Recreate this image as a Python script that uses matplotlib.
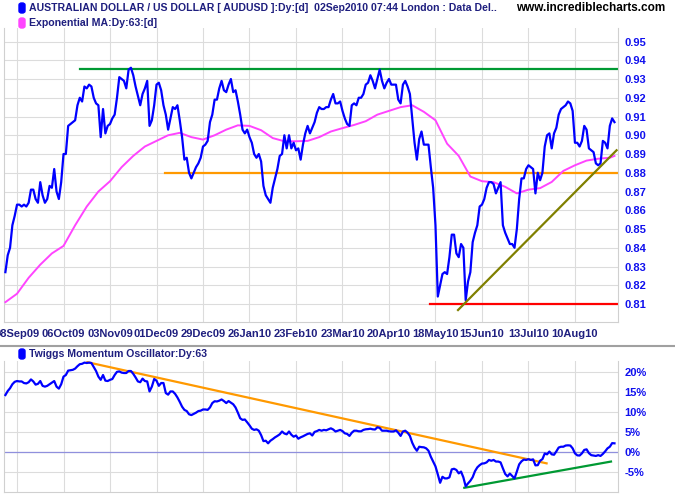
import numpy as np
import matplotlib
matplotlib.use('Agg')
import matplotlib.pyplot as plt
import matplotlib.patches as patches
from matplotlib.lines import Line2D

plt.rcParams['font.family'] = ['Liberation Sans', 'DejaVu Sans']

# AUD/USD daily close, trading day 0 = 01Sep09
price = [
    0.827, 0.836, 0.840, 0.852, 0.857, 0.863, 0.863, 0.862, 0.863, 0.862,
    0.864, 0.871, 0.871, 0.866, 0.864, 0.875, 0.868, 0.864, 0.866, 0.873,
    0.872, 0.882, 0.870, 0.866, 0.875, 0.890, 0.890, 0.905, 0.906, 0.907,
    0.908, 0.916, 0.920, 0.918, 0.926, 0.925, 0.927, 0.926, 0.920, 0.917,
    0.916, 0.899, 0.914, 0.901, 0.905, 0.906, 0.909, 0.911, 0.920, 0.931,
    0.930, 0.929, 0.925, 0.935, 0.936, 0.932, 0.926, 0.921, 0.916, 0.922,
    0.925, 0.929, 0.905, 0.908, 0.916, 0.927, 0.928, 0.924, 0.916, 0.911,
    0.903, 0.909, 0.915, 0.914, 0.916, 0.908, 0.899, 0.887, 0.888, 0.880,
    0.877, 0.880, 0.883, 0.885, 0.888, 0.894, 0.895, 0.897, 0.907, 0.911,
    0.919, 0.919, 0.925, 0.929, 0.924, 0.923, 0.927, 0.930, 0.923, 0.924,
    0.918, 0.911, 0.903, 0.901, 0.903, 0.899, 0.896, 0.890, 0.888, 0.890,
    0.886, 0.873, 0.868, 0.866, 0.864, 0.872, 0.877, 0.882, 0.889, 0.890,
    0.900, 0.893, 0.900, 0.893, 0.896, 0.892, 0.893, 0.887, 0.895, 0.901,
    0.905, 0.901, 0.904, 0.907, 0.912, 0.915, 0.914, 0.914, 0.915, 0.915,
    0.919, 0.922, 0.917, 0.917, 0.918, 0.913, 0.909, 0.906, 0.905, 0.916,
    0.917, 0.916, 0.920, 0.920, 0.922, 0.927, 0.928, 0.932, 0.929, 0.925,
    0.930, 0.935, 0.929, 0.925, 0.928, 0.930, 0.927, 0.927, 0.927, 0.919,
    0.917, 0.927, 0.929, 0.926, 0.922, 0.909, 0.896, 0.887, 0.898, 0.902,
    0.895, 0.895, 0.895, 0.883, 0.872, 0.852, 0.814, 0.820, 0.826, 0.827,
    0.826, 0.835, 0.847, 0.847, 0.837, 0.835, 0.842, 0.840, 0.812, 0.822,
    0.827, 0.843, 0.848, 0.852, 0.862, 0.863, 0.866, 0.872, 0.875, 0.875,
    0.874, 0.869, 0.872, 0.875, 0.852, 0.848, 0.845, 0.842, 0.842, 0.840,
    0.850, 0.866, 0.877, 0.877, 0.882, 0.884, 0.883, 0.882, 0.869, 0.880,
    0.876, 0.880, 0.894, 0.900, 0.901, 0.893, 0.901, 0.904, 0.911, 0.914,
    0.915, 0.916, 0.918, 0.917, 0.913, 0.896, 0.896, 0.894, 0.897, 0.905,
    0.903, 0.893, 0.892, 0.891, 0.885, 0.884, 0.885, 0.897, 0.896, 0.893,
    0.905, 0.909, 0.907,
]

# 63 day exponential MA, read every 5 trading days
ema_days = list(range(0, 261, 5)) + [262]
ema63 = [
    0.811, 0.8155, 0.824, 0.831, 0.837, 0.841, 0.852, 0.862, 0.870, 0.8755,
    0.883, 0.889, 0.894, 0.897, 0.900, 0.9013, 0.899, 0.8977, 0.900, 0.903,
    0.9053, 0.905, 0.9027, 0.8985, 0.8968, 0.8968, 0.897, 0.899, 0.902, 0.9038,
    0.9055, 0.9075, 0.911, 0.913, 0.915, 0.916, 0.9125, 0.908, 0.8955, 0.889,
    0.878, 0.8755, 0.875, 0.8725, 0.869, 0.871, 0.8718, 0.8751, 0.881, 0.884,
    0.8865, 0.8875, 0.888, 0.889,
]

# Twiggs Momentum Oscillator (%), one per trading day
momentum = [
    14.3, 15.3, 16.0, 17.0, 17.6, 17.8, 17.7, 17.7, 17.3, 17.2,
    17.5, 18.2, 17.7, 16.9, 17.1, 17.8, 16.6, 16.4, 16.6, 17.0,
    17.4, 17.8, 16.4, 15.9, 17.0, 18.9, 19.3, 20.4, 20.5, 20.6,
    20.9, 21.5, 22.0, 22.1, 22.4, 22.3, 22.4, 22.3, 21.3, 20.3,
    18.9, 18.1, 19.3, 17.9, 17.8, 18.1, 18.3, 19.3, 20.1, 20.2,
    19.9, 19.8, 19.8, 20.3, 20.3, 19.6, 18.7, 17.7, 17.5, 18.4,
    17.8, 17.7, 15.2, 16.4, 18.3, 17.9, 16.6, 17.3, 17.3, 14.8,
    14.4, 15.2, 15.2, 14.6, 13.7, 12.6, 11.4, 10.6, 10.3, 9.5,
    9.3, 9.6, 9.9, 10.3, 10.4, 10.7, 10.7, 10.6, 11.2, 12.3,
    12.75, 12.7, 12.9, 13.2, 12.8, 12.3, 12.8, 12.4, 12.0, 11.2,
    9.9, 8.5, 8.1, 8.2, 7.5, 6.75, 5.9, 5.6, 5.75, 5.4,
    4.3, 2.8, 2.9, 2.25, 2.9, 3.3, 3.75, 4.1, 4.5, 5.2,
    4.7, 4.5, 5.2, 4.4, 3.9, 4.2, 3.4, 3.75, 4.0, 4.3,
    4.6, 4.75, 4.2, 5.1, 5.3, 5.6, 5.4, 5.6, 5.5, 5.75,
    6.0, 5.7, 5.2, 5.4, 5.6, 5.3, 4.75, 4.6, 4.1, 4.9,
    5.4, 5.4, 5.25, 5.25, 5.6, 5.75, 5.8, 5.9, 5.75, 5.7,
    6.25, 6.1, 5.4, 5.4, 5.4, 5.25, 5.2, 5.2, 5.5, 4.9,
    4.1, 5.2, 5.4, 4.9, 4.1, 2.4, 1.2, 0.4, 1.4, 1.3,
    1.25, 1.0, 0.4, -1.1, -2.3, -3.5, -5.5, -7.6, -6.1, -6.5,
    -6.5, -6.25, -4.25, -4.1, -4.4, -5.25, -4.8, -6.25, -8.5, -7.75,
    -7.1, -6.2, -4.7, -3.75, -3.2, -2.8, -2.75, -2.5, -1.9, -2.1,
    -1.9, -2.3, -2.3, -2.5, -4.0, -5.4, -6.0, -5.3, -5.9, -6.5,
    -4.8, -3.0, -2.25, -1.8, -1.9, -1.7, -1.9, -1.75, -3.25, -3.2,
    -2.1, -1.7, -0.3, -0.5, 0.2, -0.5, -0.6, 0.25, 1.2, 1.4,
    1.4, 1.7, 1.75, 1.7, 1.0, -0.25, -0.75, -0.8, -0.25, 0.6,
    0.75, -0.2, -0.7, -0.8, -0.9, -0.7, -0.9, -0.4, 0.25, 1.0,
    1.4, 2.3, 2.25,
]

tick_days = [5, 25, 45, 65, 85, 105, 125, 145, 165, 185, 205, 225, 245]
tick_labels = ['08Sep09', '06Oct09', '03Nov09', '01Dec09', '29Dec09', '26Jan10',
               '23Feb10', '23Mar10', '20Apr10', '18May10', '15Jun10', '13Jul10',
               '10Aug10']
price_ticks = [0.81, 0.82, 0.83, 0.84, 0.85, 0.86, 0.87, 0.88,
               0.89, 0.90, 0.91, 0.92, 0.93, 0.94, 0.95]
mom_ticks = [-5, 0, 5, 10, 15, 20]
mom_labels = ['-5%', '0%', '5%', '10%', '15%', '20%']

# hand drawn trend lines: (start day, end day), (start value, end value)
resistance = ([32, 264], [0.9353, 0.9353])
support = ([68.7, 264], [0.880, 0.880])
low_line = ([182.6, 264], [0.8102, 0.8102])
up_trend = ([194.7, 262.9], [0.8068, 0.892])
mom_down = ([35.25, 232.8], [22.5, -2.75])
mom_up = ([197.4, 260.5], [-8.85, -2.3])

days = np.arange(len(price))
W, H = 675.0, 500.0
txt_col = '#1f1f7f'
grid_col = '#dcdcdc'

fig = plt.figure(figsize=(6.75, 5), dpi=100)
ax1 = fig.add_axes([4 / W, 1 - 322 / H, 613.5 / W, 294 / H])
ax2 = fig.add_axes([4 / W, 1 - 492 / H, 613.5 / W, 131 / H])

for ax in (ax1, ax2):
    ax.set_xlim(-0.6, 263.3)
    ax.set_xticks(tick_days)
    ax.grid(True, color=grid_col, lw=0.8)
    ax.set_axisbelow(True)
    for s in ax.spines.values():
        s.set_color('#d0d0d0')
        s.set_linewidth(0.8)
    ax.spines['top'].set_visible(False)
    ax.yaxis.tick_right()
    ax.tick_params(axis='both', length=0)
    ax.tick_params(axis='y', pad=5)

# top panel
ax1.plot(days, price, color='#0000ff', lw=1.6, zorder=4)
ax1.plot(ema_days, ema63, color='#ff44ff', lw=1.4, zorder=3)
ax1.plot(*resistance, color='#009933', lw=1.6)
ax1.plot(*support, color='#ff9900', lw=1.6)
ax1.plot(*low_line, color='#ff0000', lw=1.6)
ax1.plot(*up_trend, color='#808000', lw=1.6, zorder=5)
ax1.set_ylim(0.80042, 0.9572)
ax1.set_yticks(price_ticks)
ax1.set_yticklabels(['%.2f' % v for v in price_ticks], fontsize=8,
                    fontweight='bold', color='#1010ee')
ax1.set_xticklabels(tick_labels, fontsize=8, fontweight='bold', color=txt_col)
ax1.tick_params(axis='x', pad=5)

# bottom panel
ax2.axhline(0, color='#9090dd', lw=0.9, zorder=2)
ax2.plot(days, momentum, color='#0000ff', lw=1.6, zorder=4)
ax2.plot(*mom_down, color='#ff9900', lw=1.6, zorder=3)
ax2.plot(*mom_up, color='#009933', lw=1.6, zorder=3)
ax2.set_ylim(-9.9, 22.8)
ax2.set_yticks(mom_ticks)
ax2.set_yticklabels(mom_labels, fontsize=8, fontweight='bold', color='#1010ee')
ax2.set_xticklabels([])

# separator between the panels
fig.add_artist(Line2D([0, 1], [1 - 345.5 / H] * 2, transform=fig.transFigure,
                      color='#a0a0a0', lw=1.5))

# legend texts with their colour chips
def chip(y, color):
    fig.add_artist(patches.FancyBboxPatch((19 / W, 1 - (y + 5) / H), 6 / W, 10 / H,
                                          boxstyle='round,pad=0,rounding_size=0.004',
                                          transform=fig.transFigure, color=color))

chip(8, '#0000ff')
fig.text(29 / W, 1 - 8 / H,
         'AUSTRALIAN DOLLAR / US DOLLAR [ AUDUSD ]:Dy:[d]  02Sep2010 07:44 London : Data Del..',
         fontsize=7.6, fontweight='bold', color=txt_col, va='center')
fig.text(665 / W, 1 - 8 / H, 'www.incrediblecharts.com', fontsize=8.5,
         fontweight='bold', color='black', va='center', ha='right')
chip(23, '#ff44ff')
fig.text(29 / W, 1 - 23 / H, 'Exponential MA:Dy:63:[d]', fontsize=7.6,
         fontweight='bold', color=txt_col, va='center')
chip(354, '#0000ff')
fig.text(29 / W, 1 - 354 / H, 'Twiggs Momentum Oscillator:Dy:63', fontsize=7.6,
         fontweight='bold', color=txt_col, va='center')

fig.savefig('out.png', dpi=100)
